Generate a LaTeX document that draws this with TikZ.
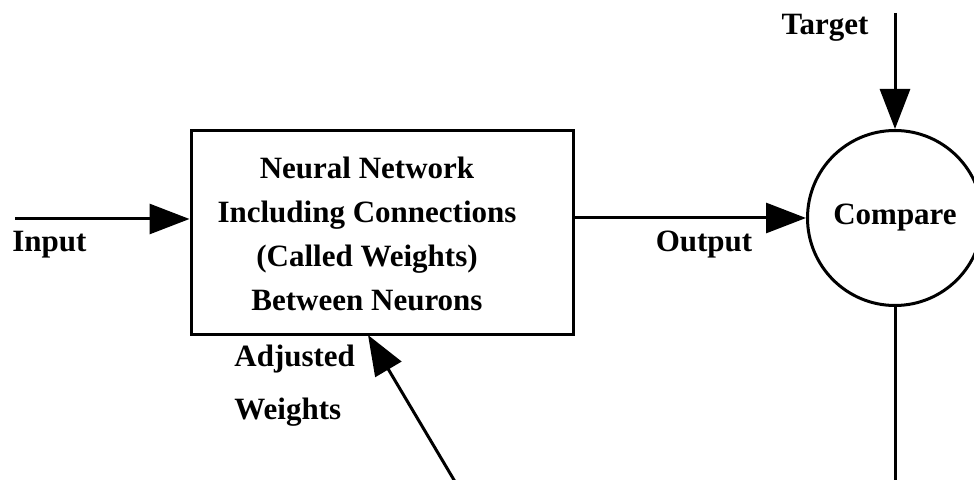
\documentclass[tikz,border=0pt]{standalone}
\usepackage{fontspec}
\setmainfont{Liberation Serif}
\usetikzlibrary{arrows.meta}
\begin{document}
\begin{tikzpicture}[x=0.5pt,y=-0.5pt,
  lbl/.style={font=\fontsize{15.5}{22}\selectfont\bfseries, inner sep=0pt},
  conn/.style={line width=1.5pt},
  arr/.style={conn, -{Triangle[length=20pt,width=15pt]}}]
\useasboundingbox (0,0) rectangle (974,480);
\node[draw, line width=1.5pt, minimum width=191pt, minimum height=102pt, inner sep=0pt] (box) at (382,233) {};
\node[lbl, align=center] (boxtext) at (367,234) {Neural Network\\Including Connections\\(Called Weights)\\Between Neurons};
\node[draw, circle, line width=1.5pt, minimum size=87.5pt, inner sep=0pt, lbl] (cmp) at (895,218) {Compare};
\node[lbl, anchor=base west] (inlbl) at (12,252) {Input};
\node[lbl, anchor=base] (outlbl) at (704,252) {Output};
\node[lbl, anchor=base] (tgtlbl) at (825,35) {Target};
\node[lbl, anchor=base west] (adjlbl) at (234,367) {Adjusted};
\node[lbl, anchor=base west] (wlbl) at (234,420) {Weights};
\coordinate (inS) at (15,219);
\coordinate (tgtS) at (895,13);
\coordinate (botE) at (895,485);
\coordinate (adjS) at (457,485);
\coordinate (adjE) at (368,335);
\draw[arr] (inS) -- (inS -| box.west);
\draw[arr] (box.east |- cmp.west) -- (cmp.west);
\draw[arr] (tgtS) -- (cmp.north);
\draw[conn] (cmp.south) -- (botE);
\draw[arr] (adjS) -- (adjE);
\end{tikzpicture}
\end{document}
